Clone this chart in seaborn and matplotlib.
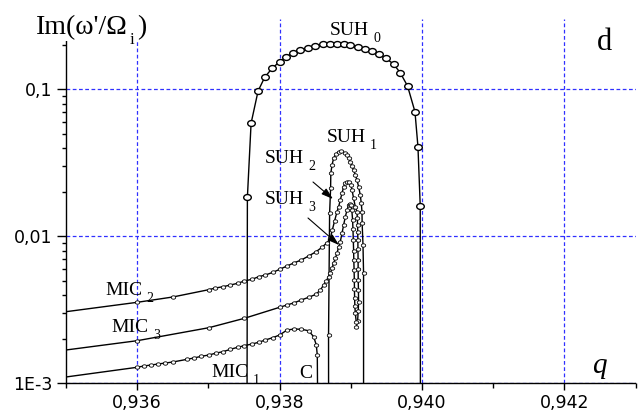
import numpy as np
import matplotlib
matplotlib.use("Agg")
import matplotlib.pyplot as plt
import matplotlib.ticker as mticker
from matplotlib.path import Path
from matplotlib.transforms import Affine2D
import seaborn as sns

FLOOR = 1e-4  # value below the plotted range: curves that drop off the chart

# ---------------- data ----------------
suh0_q = [0.937548, 0.9376, 0.937698, 0.937791, 0.937895, 0.938001, 0.938095, 0.938189,
          0.938292, 0.938394, 0.938502, 0.938611, 0.938703, 0.938807, 0.9389, 0.938994,
          0.939096, 0.939194, 0.939298, 0.939401, 0.939495, 0.939601, 0.939695, 0.939798,
          0.939902, 0.939944, 0.939976]
suh0_v = [0.0184, 0.0588, 0.0973, 0.1207, 0.139, 0.1541, 0.1667, 0.1774,
          0.1851, 0.1919, 0.198, 0.2024, 0.204, 0.204, 0.203, 0.1992,
          0.194, 0.1889, 0.1822, 0.173, 0.1625, 0.1486, 0.1297, 0.1053,
          0.0704, 0.0407, 0.01615]
suh0_ends_q = [0.93754, 0.93998]

suh1_q = [0.938688, 0.938703, 0.938717, 0.93872, 0.938737, 0.938759, 0.938793, 0.93883,
          0.938867, 0.938914, 0.938947, 0.93897, 0.938994, 0.939018, 0.93904, 0.939064,
          0.939088, 0.93911, 0.939134, 0.939148, 0.939158, 0.939160, 0.939172, 0.93918]
suh1_v = [2.131e-3, 0.01434, 0.02121, 0.02683, 0.03055, 0.03394, 0.0363, 0.03763,
          0.03823, 0.03704, 0.03573, 0.03394, 0.03218, 0.03008, 0.02825, 0.02612,
          0.02415, 0.02175, 0.0191, 0.01677, 0.01471, 0.01226, 8.73e-3, 5.60e-3]
suh1_ends_q = [0.93869, 0.93918]

mic1_q = [0.936, 0.936093, 0.936196, 0.936295, 0.936397, 0.9365, 0.936702, 0.936794,
          0.936902, 0.937005, 0.937113, 0.937207, 0.937309, 0.937412, 0.937506, 0.937614,
          0.937707, 0.937801, 0.937903, 0.938001, 0.938105, 0.938208, 0.938306, 0.938408,
          0.938479, 0.938516, 0.93853]
mic1_v = [1.285e-3, 1.311e-3, 1.332e-3, 1.353e-3, 1.374e-3, 1.396e-3, 1.456e-3, 1.486e-3,
          1.526e-3, 1.557e-3, 1.607e-3, 1.641e-3, 1.703e-3, 1.758e-3, 1.803e-3, 1.851e-3,
          1.901e-3, 1.971e-3, 2.043e-3, 2.131e-3, 2.305e-3, 2.341e-3, 2.330e-3, 2.279e-3,
          2.075e-3, 1.822e-3, 1.557e-3]
mic1_start = (0.935, 1.104e-3)
mic1_end_q = 0.938549

# MIC2 continuing into the SUH2 loop
mic2_q = [0.936, 0.9365, 0.937005, 0.937099, 0.937207, 0.937309, 0.937412, 0.937506,
          0.937614, 0.937707, 0.937801, 0.937909, 0.938011, 0.938105, 0.938208, 0.938306,
          0.938408, 0.938512, 0.938596, 0.938667, 0.938713, 0.938741, 0.938773, 0.938807,
          0.93883, 0.938853, 0.938877, 0.9389, 0.938924, 0.938952, 0.93898, 0.939001,
          0.939018, 0.93904, 0.939064, 0.939088, 0.939092, 0.939096, 0.939098, 0.9391,
          0.939101, 0.939103, 0.939104, 0.939105, 0.939108, 0.93911, 0.939105, 0.939096,
          0.939077]
mic2_v = [3.556e-3, 3.865e-3, 4.333e-3, 4.450e-3, 4.541e-3, 4.664e-3, 4.790e-3, 4.966e-3,
          5.100e-3, 5.312e-3, 5.455e-3, 5.691e-3, 5.993e-3, 6.281e-3, 6.613e-3, 6.900e-3,
          7.345e-3, 7.853e-3, 8.418e-3, 9.048e-3, 9.692e-3, 0.01104, 0.01271, 0.01471,
          0.01590, 0.01766, 0.01961, 0.02175, 0.02305, 0.02360, 0.02340, 0.02251,
          0.02065, 0.01813, 0.01590, 0.01471, 0.0133, 0.01194, 0.0107, 9.44e-3,
          8.2e-3, 6.9e-3, 6.0e-3, 5.04e-3, 4.3e-3, 3.59e-3, 3.1e-3, 2.65e-3,
          2.40e-3]
mic2_start = (0.935, 3.07e-3)

# MIC3 continuing into the SUH3 loop
mic3_q = [0.936, 0.937005, 0.937506, 0.938001, 0.938105, 0.938208, 0.938306, 0.938408,
          0.938512, 0.938573, 0.938619, 0.938657, 0.938689, 0.938713, 0.938737, 0.938759,
          0.938783, 0.938807, 0.93883, 0.938853, 0.938877, 0.9389, 0.938924, 0.938948,
          0.93897, 0.938984, 0.939001, 0.939015, 0.939026, 0.939031, 0.939036, 0.93904,
          0.939043, 0.939047, 0.93905, 0.939052, 0.939054, 0.939058, 0.939064, 0.939077]
mic3_v = [1.949e-3, 2.388e-3, 2.768e-3, 3.289e-3, 3.410e-3, 3.534e-3, 3.687e-3, 3.846e-3,
          4.031e-3, 4.313e-3, 4.664e-3, 4.989e-3, 5.312e-3, 5.601e-3, 6.057e-3, 6.551e-3,
          7.085e-3, 7.663e-3, 8.501e-3, 9.193e-3, 0.01048, 0.01194, 0.01359, 0.01510,
          0.01633, 0.01672, 0.01633, 0.01510, 0.01291, 0.0112, 9.44e-3, 8.0e-3,
          6.90e-3, 5.9e-3, 5.04e-3, 4.4e-3, 3.804e-3, 3.35e-3, 2.993e-3, 2.624e-3]
mic3_start = (0.935, 1.685e-3)

x_ticks = [0.936, 0.938, 0.940, 0.942]
x_tick_labels = ["0,936", "0,938", "0,940", "0,942"]
y_ticks = [1e-3, 1e-2, 1e-1]
y_tick_labels = ["1E-3", "0,01", "0,1"]

# ---------------- style ----------------
sns.set_theme(style="ticks")
plt.rcParams["font.family"] = ["DejaVu Sans"]

W, H = 643, 415
fig = plt.figure(figsize=(W / 100, H / 100), dpi=100)
fig.patch.set_facecolor("white")
ax = fig.add_axes([66 / W, 1 - 383.3 / H, 569.5 / W, 364.1 / H])
ax.set_facecolor("white")
ax.set_yscale("log")

_circ = Path.unit_circle()
ELL = Path(Affine2D().scale(1.0, 0.78).transform(_circ.vertices), _circ.codes)


def curve(q_line, v_line, q_mark, v_mark, size, mew):
    sns.lineplot(x=q_line, y=v_line, sort=False, estimator=None, color="black",
                 linewidth=1.0, ax=ax, zorder=2)
    sns.scatterplot(x=q_mark, y=v_mark, marker=ELL, s=size, color="white",
                    edgecolor="black", linewidth=mew, ax=ax, zorder=3)


# SUH0
curve([suh0_ends_q[0]] + suh0_q + [suh0_ends_q[1]], [FLOOR] + suh0_v + [FLOOR],
      suh0_q, suh0_v, 30, 1.0)
# SUH1
curve([suh1_ends_q[0]] + suh1_q + [suh1_ends_q[1]], [FLOOR] + suh1_v + [FLOOR],
      suh1_q, suh1_v, 10, 0.6)
# MIC1 / C
curve([mic1_start[0]] + mic1_q + [mic1_end_q], [mic1_start[1]] + mic1_v + [FLOOR],
      mic1_q, mic1_v, 10, 0.6)
# MIC2 -> SUH2
curve([mic2_start[0]] + mic2_q, [mic2_start[1]] + mic2_v, mic2_q, mic2_v, 10, 0.6)
# MIC3 -> SUH3
curve([mic3_start[0]] + mic3_q, [mic3_start[1]] + mic3_v, mic3_q, mic3_v, 10, 0.6)

# ---------------- axes ----------------
ax.set_xlim(0.935, 0.943)
ax.set_ylim(1e-3, 0.3)
ax.xaxis.set_major_locator(mticker.FixedLocator(x_ticks))
ax.xaxis.set_major_formatter(mticker.FixedFormatter(x_tick_labels))
ax.xaxis.set_minor_locator(mticker.MultipleLocator(0.001))
ax.yaxis.set_major_locator(mticker.FixedLocator(y_ticks))
ax.yaxis.set_major_formatter(mticker.FixedFormatter(y_tick_labels))
ax.yaxis.set_minor_locator(mticker.LogLocator(base=10, subs=np.arange(2, 10), numticks=30))
ax.yaxis.set_minor_formatter(mticker.NullFormatter())
ax.set_xlabel("")
ax.set_ylabel("")

ax.tick_params(axis="x", which="major", length=5, width=1, direction="out",
               labelsize=12.5, pad=3, color="black", labelcolor="black")
ax.tick_params(axis="x", which="minor", length=3.5, width=1, direction="out", color="black")
ax.tick_params(axis="y", which="major", length=6.5, width=1, direction="out",
               labelsize=12.5, pad=3, color="black", labelcolor="black")
ax.tick_params(axis="y", which="minor", length=3, width=1, direction="out", color="black")
ax.tick_params(top=False, right=False, which="both")

for s in ["top", "right"]:
    ax.spines[s].set_visible(False)
for s in ["left", "bottom"]:
    ax.spines[s].set_color("black")
    ax.spines[s].set_linewidth(1.0)

ax.grid(True, which="major", color="#3030ff", linestyle=(0, (3, 2)), linewidth=0.9)
ax.grid(False, which="minor")

# ---------------- text ----------------
renderer = fig.canvas.get_renderer()
SERIF = "Liberation Serif"


def ftxt(px, py, s, size, **kw):
    kw.setdefault("family", SERIF)
    return fig.text(px / W, 1 - py / H, s, fontsize=size, ha="left", va="baseline",
                    color="black", **kw)


def right_px(t):
    return t.get_window_extent(renderer).x1


def sublabel(px, py, main, sub, size=14, subsize=10, dx=4, dy=7):
    t = ftxt(px, py, main, size)
    ftxt(right_px(t) + dx, py + dy, sub, subsize)


sublabel(330, 35, "SUH", "0")
sublabel(326.7, 141.7, "SUH", "1")
sublabel(265, 163, "SUH", "2")
sublabel(265, 204, "SUH", "3")
sublabel(105, 295, "MIC", "2")
sublabel(111.7, 331.7, "MIC", "3")
sublabel(211.7, 376.7, "MIC", "1")
ftxt(299.5, 378, "C", 14)
ftxt(596.7, 50, "d", 22)
ftxt(591.7, 373, "q", 21, style="italic")

# y-axis title  Im(ω'/Ω_i)
box = dict(facecolor="white", edgecolor="none", pad=1.0)
t1 = ftxt(36, 34, "Im(\u03c9'/\u03a9", 20, bbox=box, zorder=10)
t2 = ftxt(right_px(t1) + 2, 44, "i", 12, bbox=box, zorder=10)
ftxt(right_px(t2) + 3, 34, ")", 20, bbox=box, zorder=10)

arrow_kw = dict(arrowstyle="-|>,head_length=0.7,head_width=0.22", color="black", lw=0.8,
                shrinkA=0, shrinkB=0, mutation_scale=10)
ax.annotate("", xy=(333, H - 199), xycoords="figure pixels",
            xytext=(313, H - 182), textcoords="figure pixels", arrowprops=arrow_kw)
ax.annotate("", xy=(339, H - 245), xycoords="figure pixels",
            xytext=(308, H - 218), textcoords="figure pixels", arrowprops=arrow_kw)

fig.savefig("out.png", dpi=100, facecolor="white")
